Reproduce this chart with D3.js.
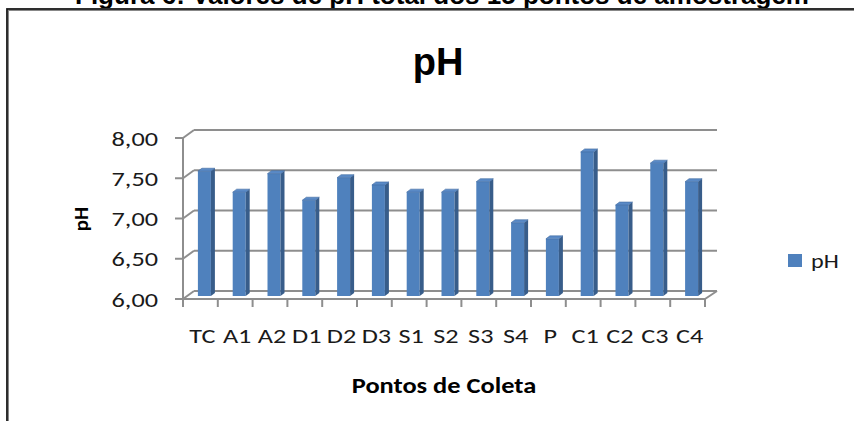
<!DOCTYPE html>
<html>
<head>
<meta charset="utf-8">
<script src="https://cdn.jsdelivr.net/npm/d3@7"></script>
<style>
  body { margin: 0; background: #fff; }
  svg { display: block; }
</style>
</head>
<body>
<div id="chart"></div>
<script>
// data
var categories = ["TC", "A1", "A2", "D1", "D2", "D3", "S1", "S2", "S3", "S4", "P", "C1", "C2", "C3", "C4"];
var phValues = [7.55, 7.29, 7.52, 7.19, 7.47, 7.38, 7.29, 7.29, 7.42, 6.91, 6.71, 7.79, 7.13, 7.65, 7.42];
var yTicks = [6.0, 6.5, 7.0, 7.5, 8.0];

var W = 854, H = 421;
var svg = d3.select("#chart").append("svg")
  .attr("width", W).attr("height", H);

// the source picture has its text a bit wider than the font, stretch it
function stretch(sel, k) {
  sel.each(function() {
    var w = this.getComputedTextLength();
    d3.select(this).attr("textLength", w * k).attr("lengthAdjust", "spacingAndGlyphs");
  });
}

// caption cut off at top of image
svg.append("text")
  .attr("x", 442).attr("y", 4)
  .attr("text-anchor", "middle")
  .style("font-family", "'Liberation Sans', Arial, sans-serif")
  .style("font-weight", "bold")
  .style("font-size", "26px")
  .text("Figura 6: Valores de pH total dos 15 pontos de amostragem");

// frame
svg.append("rect")
  .attr("x", 7.5).attr("y", 9.5)
  .attr("width", W + 10).attr("height", H + 10)
  .attr("fill", "none").attr("stroke", "#888").attr("stroke-width", 3);
svg.append("rect")
  .attr("x", 7).attr("y", 9)
  .attr("width", W + 10).attr("height", H + 10)
  .attr("fill", "none").attr("stroke", "#111").attr("stroke-width", 1.5);

// 3d offsets (back wall relative to front)
var dx = 11, dy = -8;
var x0 = 183, x1 = 705;

var x = d3.scaleBand().domain(categories).range([x0, x1]);
var y = d3.scaleLinear().domain([6, 8]).range([299, 138]);

var grid = "#8e8e8e";
var g = svg.append("g");

// back wall gridlines
g.selectAll(".grid").data(yTicks).enter().append("line")
  .attr("x1", x0 + dx).attr("x2", x1 + dx + 1)
  .attr("y1", function(d) { return y(d) + dy; })
  .attr("y2", function(d) { return y(d) + dy; })
  .attr("stroke", grid).attr("stroke-width", 2);

// side wall diagonals
g.selectAll(".diag").data(yTicks).enter().append("line")
  .attr("x1", x0).attr("x2", x0 + dx)
  .attr("y1", function(d) { return y(d); })
  .attr("y2", function(d) { return y(d) + dy; })
  .attr("stroke", grid).attr("stroke-width", 2);

// floor front & right edges
g.append("line").attr("x1", x0).attr("x2", x1).attr("y1", y(6)).attr("y2", y(6))
  .attr("stroke", grid).attr("stroke-width", 2);
g.append("line").attr("x1", x1).attr("x2", x1 + dx + 1).attr("y1", y(6)).attr("y2", y(6) + dy)
  .attr("stroke", grid).attr("stroke-width", 2);

// y axis line + ticks
g.append("line").attr("x1", x0).attr("x2", x0).attr("y1", y(8)).attr("y2", y(6) + 1)
  .attr("stroke", grid).attr("stroke-width", 2);
g.selectAll(".ytick").data(yTicks).enter().append("line")
  .attr("x1", x0 - 8).attr("x2", x0)
  .attr("y1", function(d) { return y(d); })
  .attr("y2", function(d) { return y(d); })
  .attr("stroke", grid).attr("stroke-width", 2);

// x ticks at band edges
var edges = categories.map(function(c) { return x(c); }).concat([x1]);
g.selectAll(".xtick").data(edges).enter().append("line")
  .attr("x1", function(d) { return d; }).attr("x2", function(d) { return d; })
  .attr("y1", y(6)).attr("y2", y(6) + 8)
  .attr("stroke", grid).attr("stroke-width", 2);

// bars (front face at 3/8 depth, bar depth 3/8)
var bw = 13, fx = 4, fy = -3, bdx = 4, bdy = -3;
var bars = g.selectAll(".bar").data(phValues).enter().append("g");
function bx(i) { return x(categories[i]) + x.bandwidth() / 2 + fx - bw / 2; }

bars.append("rect")
  .attr("x", function(d, i) { return bx(i); })
  .attr("y", function(d) { return y(d) + fy; })
  .attr("width", bw)
  .attr("height", function(d) { return y(6) - y(d); })
  .attr("fill", "#4f81bd");
bars.append("path")
  .attr("d", function(d, i) {
    var l = bx(i) + bw, t = y(d) + fy, b = y(6) + fy;
    return "M" + l + "," + t + "L" + (l + bdx) + "," + (t + bdy) + "L" + (l + bdx) + "," + (b + bdy) + "L" + l + "," + b + "Z";
  })
  .attr("fill", "#385d8a");
bars.append("path")
  .attr("d", function(d, i) {
    var l = bx(i), t = y(d) + fy;
    return "M" + l + "," + t + "L" + (l + bw) + "," + t + "L" + (l + bw + bdx) + "," + (t + bdy) + "L" + (l + bdx) + "," + (t + bdy) + "Z";
  })
  .attr("fill", "#5a8ac6").attr("stroke", "#3f6a9f").attr("stroke-width", 0.6);

var labelFont = "Carlito, Lato, 'Open Sans', sans-serif";

// y tick labels
svg.selectAll(".ylab").data(yTicks).enter().append("text")
  .attr("x", 158)
  .attr("y", function(d) { return y(d); })
  .attr("dy", "0.36em")
  .attr("text-anchor", "end")
  .style("font-family", labelFont)
  .style("font-size", "21px")
  .attr("fill", "#1a1a1a")
  .text(function(d) { return d3.format(".2f")(d).replace(".", ","); })
  .call(stretch, 1.25);

// x labels
svg.selectAll(".xlab").data(categories).enter().append("text")
  .attr("x", function(d) { return x(d) + x.bandwidth() / 2 + 2; })
  .attr("y", 343)
  .attr("text-anchor", "middle")
  .style("font-family", labelFont)
  .style("font-size", "21px")
  .attr("fill", "#1a1a1a")
  .text(function(d) { return d; })
  .call(stretch, 1.25);

// axis titles
svg.append("text")
  .attr("x", 444).attr("y", 393)
  .attr("text-anchor", "middle")
  .style("font-family", labelFont)
  .style("font-weight", "bold")
  .style("font-size", "22px")
  .text("Pontos de Coleta")
  .call(stretch, 1.2);

svg.append("text")
  .attr("transform", "translate(88,219) rotate(-90)")
  .attr("text-anchor", "middle")
  .style("font-family", labelFont)
  .style("font-weight", "bold")
  .style("font-size", "21px")
  .text("pH");

// chart title
svg.append("text")
  .attr("x", 438).attr("y", 75)
  .attr("text-anchor", "middle")
  .style("font-family", "'Liberation Sans', Arial, sans-serif")
  .style("font-weight", "bold")
  .style("font-size", "38px")
  .text("pH");

// legend
svg.append("rect")
  .attr("x", 788).attr("y", 254).attr("width", 14).attr("height", 13)
  .attr("fill", "#4f81bd");
svg.append("text")
  .attr("x", 811).attr("y", 268)
  .style("font-family", labelFont)
  .style("font-size", "21px")
  .attr("fill", "#1a1a1a")
  .text("pH")
  .call(stretch, 1.15);
</script>
</body>
</html>
